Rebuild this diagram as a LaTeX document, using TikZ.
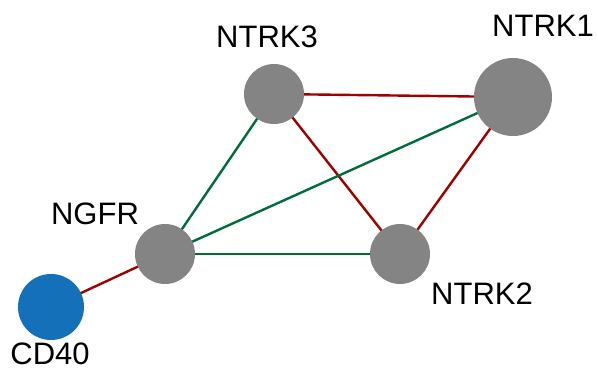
\documentclass[tikz,border=0pt]{standalone}
\usepackage{fontspec}
\setmainfont{Liberation Sans}
\usetikzlibrary{backgrounds}
\definecolor{nodegray}{RGB}{132,132,132}
\definecolor{nodeblue}{RGB}{20,112,184}
\definecolor{edgered}{RGB}{160,0,0}
\definecolor{edgegreen}{RGB}{0,108,58}
\tikzset{
  gene/.style={circle, fill=nodegray, draw=none, inner sep=0pt},
  lbl/.style={anchor=base, inner sep=0pt, text depth=0pt, font=\fontsize{31}{36}\selectfont},
  redge/.style={draw=edgered, line width=2.4pt},
  gedge/.style={draw=edgegreen, line width=2.4pt}
}
\begin{document}
\begin{tikzpicture}[x=1pt, y=-1pt]
\useasboundingbox (0,0) rectangle (598,371);
\node[gene, minimum size=60pt] (ntrk3) at (274,94) {};
\node[gene, minimum size=78pt] (ntrk1) at (513,97) {};
\node[gene, minimum size=60pt] (ngfr) at (165,254) {};
\node[gene, minimum size=60pt] (ntrk2) at (400,254) {};
\node[gene, fill=nodeblue, minimum size=66pt] (cd40) at (51,307) {};
\node[lbl] (l3) at (267,48) {NTRK3};
\node[lbl] (l1) at (543,37) {NTRK1};
\node[lbl] (lg) at (95,225) {NGFR};
\node[lbl] (l2) at (482,305) {NTRK2};
\node[lbl] (lc) at (50,364.5) {CD40};
\begin{pgfonlayer}{background}
\draw[redge] (ntrk3.center) -- (ntrk1.center);
\draw[gedge] (ntrk3.center) -- (ngfr.center);
\draw[redge] (ntrk3.center) -- (ntrk2.center);
\draw[gedge] (ntrk1.center) -- (ngfr.center);
\draw[redge] (ntrk1.center) -- (ntrk2.center);
\draw[gedge] (ngfr.center) -- (ntrk2.center);
\draw[redge] (ngfr.center) -- (cd40.center);
\end{pgfonlayer}
\end{tikzpicture}
\end{document}
